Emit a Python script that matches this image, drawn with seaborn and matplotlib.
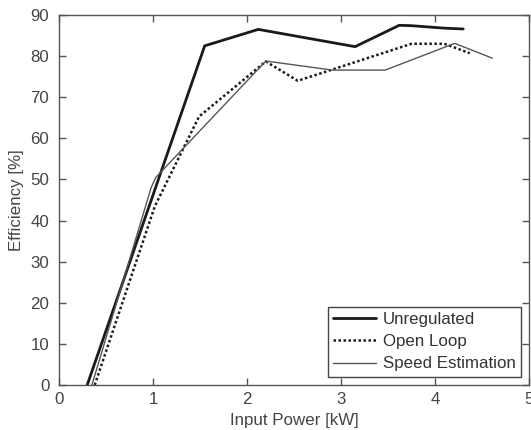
import matplotlib
matplotlib.use("Agg")
import matplotlib.pyplot as plt
import seaborn as sns
import pandas as pd

unreg_x = [0.30, 1.55, 2.12, 3.15, 3.62, 3.75, 4.10, 4.30]
unreg_y = [0.0, 82.5, 86.5, 82.3, 87.5, 87.4, 86.8, 86.6]

open_x = [0.38, 1.02, 1.49, 2.20, 2.54, 3.75, 4.10, 4.37]
open_y = [0.0, 43.5, 65.3, 78.7, 74.0, 83.0, 83.0, 80.7]

speed_x = [0.35, 0.98, 1.03, 2.20, 2.91, 3.47, 4.21, 4.61]
speed_y = [0.0, 48.0, 50.5, 78.8, 76.6, 76.6, 83.1, 79.5]

labels = ["Unregulated", "Open Loop", "Speed Estimation"]

sns.set_style("white")
plt.rcParams["font.family"] = ["Liberation Sans", "DejaVu Sans"]

FS = 12.2
fig = plt.figure(figsize=(5.31, 4.30), dpi=100)
ax = fig.add_axes([59/531, 45/430, 470/531, 370/430])

styles = [dict(color="#1a1a1a", lw=2.0, ls="-"),
          dict(color="#1a1a1a", lw=1.8, ls=(0, (1, 1))),
          dict(color="#555555", lw=1.0, ls="-")]
for xs, ys, lab, st in zip([unreg_x, open_x, speed_x], [unreg_y, open_y, speed_y], labels, styles):
    df = pd.DataFrame({"x": xs, "y": ys})
    sns.lineplot(data=df, x="x", y="y", ax=ax, sort=False, estimator=None,
                 label=lab, color=st["color"], linewidth=st["lw"], linestyle=st["ls"])

ax.set_xlim(0, 5)
ax.set_ylim(0, 90)
ax.set_xticks(range(0, 6))
ax.set_yticks(range(0, 91, 10))
ax.set_xlabel("Input Power [kW]", fontsize=FS, color="#444444")
ax.set_ylabel("Efficiency [%]", fontsize=FS, color="#444444")
ax.xaxis.label.set_va("center")
ax.yaxis.label.set_va("center")
ax.xaxis.set_label_coords(0.5, -35/370)
ax.yaxis.set_label_coords(-42/470, 0.5)
ax.tick_params(direction="in", bottom=True, left=True, top=True, right=True,
               length=5, width=1.0, colors="#555555", labelsize=FS,
               labelcolor="#444444")
ax.tick_params(axis="x", pad=5)
ax.tick_params(axis="y", pad=7)
for s in ax.spines.values():
    s.set_color("#555555")
    s.set_linewidth(1.0)

leg = ax.legend(loc="lower right", fontsize=FS, frameon=True, fancybox=False,
                edgecolor="#444444", framealpha=1, borderpad=0.3, labelspacing=0.42,
                handlelength=2.5, handletextpad=0.4, borderaxespad=0.5)
leg.get_frame().set_linewidth(1.0)
for t in leg.get_texts():
    t.set_color("#333333")

fig.savefig("out.png", dpi=100)
